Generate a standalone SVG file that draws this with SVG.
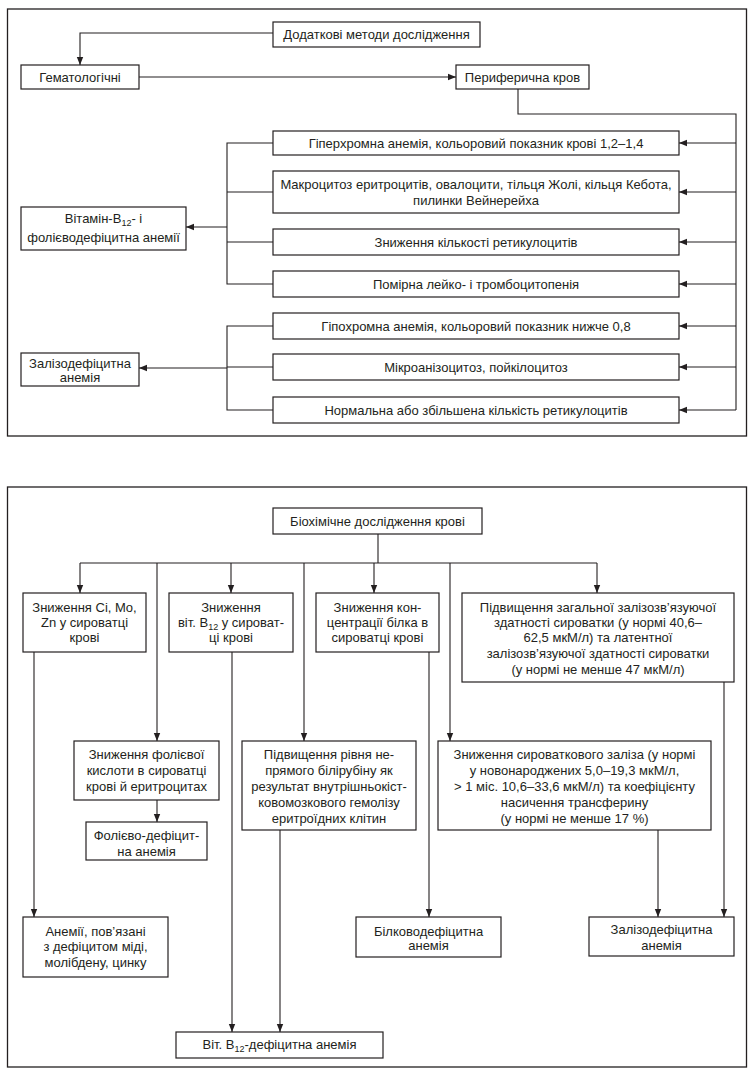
<svg xmlns="http://www.w3.org/2000/svg" width="752" height="1074" viewBox="0 0 752 1074">
<defs>
<marker id="ah" viewBox="0 0 10 10" refX="10" refY="5" markerWidth="8" markerHeight="8" markerUnits="userSpaceOnUse" orient="auto">
<path d="M0,1 L10,5 L0,9 z" fill="#231f20"/>
</marker>
</defs>
<style>
.frame{fill:none;stroke:#231f20;stroke-width:1.3}
.box{fill:#fff;stroke:#231f20;stroke-width:1.2}
.ln{fill:none;stroke:#231f20;stroke-width:1.1}
.ar{fill:none;stroke:#231f20;stroke-width:1.1;marker-end:url(#ah)}
text{font-family:"Liberation Sans",Arial,sans-serif;font-size:13px;fill:#231f20;text-anchor:middle}
.sub{font-size:9px}
</style>
<rect class="frame" x="7.5" y="9" width="739" height="427"/>
<rect class="frame" x="7.5" y="487" width="739" height="580"/>

<g id="connectors">
<polyline class="ar" points="273,33 80,33 80,65"/>
<line class="ar" x1="139" y1="77" x2="456" y2="77"/>
<polyline class="ln" points="518,89 518,114 736,114 736,410"/>
<line class="ar" x1="736" y1="143" x2="679" y2="143"/>
<line class="ar" x1="736" y1="192" x2="679" y2="192"/>
<line class="ar" x1="736" y1="242" x2="679" y2="242"/>
<line class="ar" x1="736" y1="284" x2="679" y2="284"/>
<line class="ar" x1="736" y1="326" x2="679" y2="326"/>
<line class="ar" x1="736" y1="367" x2="679" y2="367"/>
<line class="ar" x1="736" y1="410" x2="679" y2="410"/>
<polyline class="ln" points="273,143 227,143 227,284 273,284"/>
<line class="ln" x1="227" y1="192" x2="273" y2="192"/>
<line class="ln" x1="227" y1="242" x2="273" y2="242"/>
<line class="ar" x1="227" y1="227" x2="186" y2="227"/>
<polyline class="ln" points="273,326 227,326 227,410 273,410"/>
<line class="ln" x1="227" y1="367" x2="273" y2="367"/>
<line class="ar" x1="227" y1="368" x2="139" y2="368"/>

<line class="ln" x1="378" y1="534" x2="378" y2="563"/>
<line class="ln" x1="80" y1="563" x2="597" y2="563"/>
<line class="ar" x1="80" y1="563" x2="80" y2="593"/>
<line class="ar" x1="157" y1="563" x2="157" y2="741"/>
<line class="ar" x1="231" y1="563" x2="231" y2="593"/>
<line class="ar" x1="304" y1="563" x2="304" y2="741"/>
<line class="ar" x1="374" y1="563" x2="374" y2="593"/>
<line class="ar" x1="450" y1="563" x2="450" y2="741"/>
<line class="ar" x1="597" y1="563" x2="597" y2="593"/>
<line class="ar" x1="34" y1="652" x2="34" y2="917"/>
<line class="ar" x1="232" y1="652" x2="232" y2="1032"/>
<line class="ar" x1="280" y1="830" x2="280" y2="1032"/>
<line class="ar" x1="429" y1="652" x2="429" y2="917"/>
<line class="ar" x1="658" y1="830" x2="658" y2="917"/>
<line class="ar" x1="724" y1="682" x2="724" y2="917"/>
<line class="ar" x1="157" y1="800" x2="157" y2="822"/>
</g>

<g id="n-dodatkovi"><rect class="box" x="273" y="22" width="207" height="25"/><text x="376.5" y="39">Додаткові методи дослідження</text></g>
<g id="n-hemat"><rect class="box" x="21" y="65" width="118" height="24"/><text x="80" y="81.5">Гематологічні</text></g>
<g id="n-perif"><rect class="box" x="456" y="65" width="133" height="24"/><text x="522.5" y="81.5">Периферична кров</text></g>

<g id="n-hyper"><rect class="box" x="273" y="131" width="406" height="24"/><text x="476" y="147.5">Гіперхромна анемія, кольоровий показник крові 1,2–1,4</text></g>
<g id="n-macro"><rect class="box" x="273" y="171" width="406" height="42"/><text x="476" y="188.5">Макроцитоз еритроцитів, овалоцити, тільця Жолі, кільця Кебота,</text><text x="476" y="204.5">пилинки Вейнерейха</text></g>
<g id="n-retic-low"><rect class="box" x="273" y="229" width="406" height="26"/><text x="476" y="246.5">Зниження кількості ретикулоцитів</text></g>
<g id="n-leuko"><rect class="box" x="273" y="271" width="406" height="26"/><text x="476" y="288.5">Помірна лейко- і тромбоцитопенія</text></g>
<g id="n-hypo"><rect class="box" x="273" y="313" width="406" height="26"/><text x="476" y="330.5">Гіпохромна анемія, кольоровий показник нижче 0,8</text></g>
<g id="n-micro"><rect class="box" x="273" y="354" width="406" height="26"/><text x="476" y="371.5">Мікроанізоцитоз, пойкілоцитоз</text></g>
<g id="n-retic-norm"><rect class="box" x="273" y="397" width="406" height="26"/><text x="476" y="414.5">Нормальна або збільшена кількість ретикулоцитів</text></g>

<g id="n-vitb12"><rect class="box" x="21" y="207" width="165" height="43"/><text x="103.5" y="222.5">Вітамін-B<tspan class="sub" dy="3">12</tspan><tspan dy="-3">- і</tspan></text><text x="103.5" y="241.5">фолієводефіцитна анемії</text></g>
<g id="n-zaliz1"><rect class="box" x="21" y="353" width="118" height="33"/><text x="80" y="367.5">Залізодефіцитна</text><text x="80" y="381.5">анемія</text></g>

<g id="n-bio"><rect class="box" x="273" y="508" width="209" height="26"/><text x="377.5" y="525.5">Біохімічне дослідження крові</text></g>
<g id="n-cimo"><rect class="box" x="23" y="593" width="123" height="59"/><text x="84.5" y="611.5">Зниження Ci, Mo,</text><text x="84.5" y="626.5">Zn у сироватці</text><text x="84.5" y="641.5">крові</text></g>
<g id="n-b12low"><rect class="box" x="169" y="593" width="124" height="59"/><text x="231" y="611.5">Зниження</text><text x="231" y="626.5">віт. B<tspan class="sub" dy="3">12</tspan><tspan dy="-3"> у сироват-</tspan></text><text x="231" y="641.5">ці крові</text></g>
<g id="n-protein"><rect class="box" x="316" y="593" width="123" height="59"/><text x="377.5" y="611.5">Зниження кон-</text><text x="377.5" y="626.5">центрації білка в</text><text x="377.5" y="641.5">сироватці крові</text></g>
<g id="n-tibc"><rect class="box" x="462" y="593" width="272" height="89"/><text x="598" y="611.5">Підвищення загальної залізозв’язуючої</text><text x="598" y="626.5">здатності сироватки (у нормі 40,6–</text><text x="598" y="641.5">62,5 мкМ/л) та латентної</text><text x="598" y="657.5">залізозв’язуючої здатності сироватки</text><text x="598" y="673.5">(у нормі не менше 47 мкМ/л)</text></g>

<g id="n-folic"><rect class="box" x="74" y="741" width="145" height="59"/><text x="146.5" y="758.5">Зниження фолієвої</text><text x="146.5" y="774.5">кислоти в сироватці</text><text x="146.5" y="790.5">крові й еритроцитах</text></g>
<g id="n-folicdef"><rect class="box" x="86" y="822" width="121" height="38"/><text x="146.5" y="839.5">Фолієво-дефіцит-</text><text x="146.5" y="855.5">на анемія</text></g>
<g id="n-bili"><rect class="box" x="242" y="741" width="174" height="89"/><text x="329" y="758.5">Підвищення рівня не-</text><text x="329" y="774.5">прямого білірубіну як</text><text x="329" y="790.5">результат внутрішньокіст-</text><text x="329" y="806.5">ковомозкового гемолізу</text><text x="329" y="822.5">еритроїдних клітин</text></g>
<g id="n-iron"><rect class="box" x="438" y="741" width="273" height="89"/><text x="574.5" y="758.5">Зниження сироваткового заліза (у нормі</text><text x="574.5" y="774.5">у новонароджених 5,0–19,3 мкМ/л,</text><text x="574.5" y="790.5">&gt; 1 міс. 10,6–33,6 мкМ/л) та коефіцієнту</text><text x="574.5" y="806.5">насичення трансферину</text><text x="574.5" y="822.5">(у нормі не менше 17 %)</text></g>

<g id="n-cu"><rect class="box" x="23" y="917" width="145" height="60"/><text x="95.5" y="935.5">Анемії, пов’язані</text><text x="95.5" y="950.5">з дефіцитом міді,</text><text x="95.5" y="966.5">молібдену, цинку</text></g>
<g id="n-proteindef"><rect class="box" x="356" y="917" width="145" height="40"/><text x="428.5" y="935.5">Білководефіцитна</text><text x="428.5" y="950">анемія</text></g>
<g id="n-zaliz2"><rect class="box" x="589" y="917" width="145" height="39"/><text x="661.5" y="933.5">Залізодефіцитна</text><text x="661.5" y="950">анемія</text></g>
<g id="n-b12def"><rect class="box" x="176" y="1032" width="207" height="26"/><text x="279.5" y="1049">Віт. B<tspan class="sub" dy="3">12</tspan><tspan dy="-3">-дефіцитна анемія</tspan></text></g>
</svg>
